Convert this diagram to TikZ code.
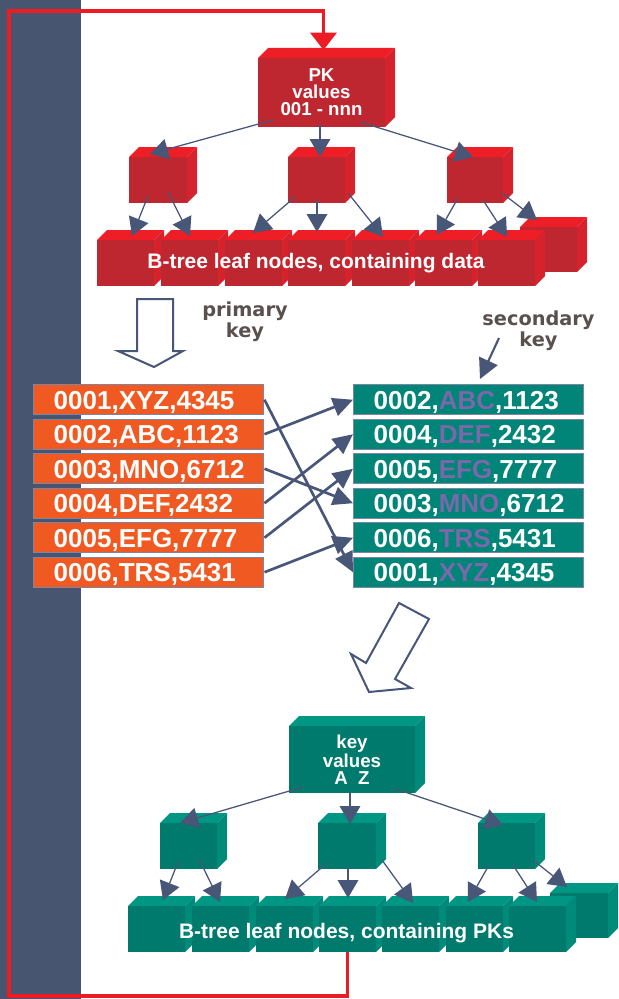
\documentclass[tikz,border=0pt]{standalone}
\usepackage{fontspec}
\setmainfont{Liberation Sans}
\newfontfamily\notefont{DejaVu Sans}
\usetikzlibrary{arrows.meta}

\definecolor{slateband}{RGB}{71,85,112}
\definecolor{slateline}{RGB}{72,86,120}
\definecolor{rowedge}{RGB}{125,134,160}
\definecolor{pkred}{RGB}{237,28,36}
\definecolor{redfront}{RGB}{190,38,48}
\definecolor{redtop}{RGB}{237,30,38}
\definecolor{redside}{RGB}{214,34,44}
\definecolor{grfront}{RGB}{0,122,108}
\definecolor{grtop}{RGB}{0,150,132}
\definecolor{grside}{RGB}{0,138,122}
\definecolor{rowor}{RGB}{240,90,34}
\definecolor{rowgr}{RGB}{0,133,120}
\definecolor{keypurple}{RGB}{122,104,170}
\definecolor{notegray}{RGB}{90,80,78}

% 3-D block: name, x, y (front top-left), width, height, palette, text
\newcommand\blockcube[7]{%
  \fill[#6top] (#2,#3) -- ++(10,-10) -- ++(#4,0) -- ++(-10,10) -- cycle;
  \fill[#6side] (#2+#4,#3) -- ++(10,-10) -- ++(0,#5) -- ++(-10,10) -- cycle;
  \node[cubeface, fill=#6front, minimum width=#4*0.75pt, minimum height=#5*0.75pt] (#1) at (#2,#3) {#7};
}

\begin{document}
\begin{tikzpicture}[x=0.75pt, y=-0.75pt,
  cubeface/.style={anchor=north west, inner sep=0pt, outer sep=0pt, text=white,
    align=center, font=\bfseries\fontsize{14}{12.8}\selectfont},
  leaflabel/.style={anchor=base, inner sep=0pt, text=white,
    font=\bfseries\fontsize{15.75}{18}\selectfont},
  treearrow/.style={draw=slateline, line width=0.95pt, -{Triangle[length=13.5pt,width=15.5pt]}},
  crossarrow/.style={draw=slateline, line width=2pt, -{Triangle[length=15pt,width=14pt]}},
  keyarrow/.style={draw=slateline, line width=1.6pt, -{Triangle[length=15pt,width=15pt]}},
  hollowarrow/.style={draw=slateline, line width=1.5pt, fill=white, line join=miter},
  redloop/.style={draw=pkred, line width=2.6pt, line join=miter, -{Triangle[length=13pt,width=19.5pt]}},
  tablerow/.style={anchor=north west, draw=rowedge, line width=1.1pt, text=white,
    inner xsep=15pt, inner ysep=0pt, text width=142.5pt, align=left,
    minimum height=22.5pt, text height=14pt, text depth=0pt,
    font=\bfseries\fontsize{19.5}{20}\selectfont},
  leftrow/.style={tablerow, fill=rowor},
  rightrow/.style={tablerow, fill=rowgr},
  keynote/.style={align=center, text=notegray, inner sep=0pt,
    font=\notefont\bfseries\fontsize{14.5}{15.75}\selectfont}
]
\useasboundingbox (0,0) rectangle (618,999);
\fill[white] (0,0) rectangle (618,999);
\fill[slateband] (0,0) rectangle (81,999);

% ---------- primary-key B-tree ----------
\blockcube{rlb}{520}{227}{57}{45}{red}{}
\blockcube{pk}{258}{58}{127}{69}{red}{PK\\values\\001 - nnn}
\blockcube{rc1}{129}{157}{58}{46}{red}{}
\blockcube{rc2}{288}{157}{57}{46}{red}{}
\blockcube{rc3}{447}{157}{56}{46}{red}{}
\foreach \n/\x in {1/97,2/161,3/225,4/288,5/352,6/415,7/478}
  {\blockcube{rl\n}{\x}{240}{57}{46}{red}{}}
\node[leaflabel] (rlabel) at (316,268.5) {B-tree leaf nodes, containing data};

\draw[treearrow] ([shift={(15,62)}]pk.north west) -- ([shift={(21,-3)}]rc1.north west);
\draw[treearrow] ([shift={(62,66)}]pk.north west) -- ([shift={(32,0)}]rc2.north west);
\draw[treearrow] ([shift={(102,64)}]pk.north west) -- ([shift={(26,0)}]rc3.north west);

\draw[treearrow] ([shift={(19,39)}]rc1.north west) -- ([shift={(35,-4)}]rl1.north west);
\draw[treearrow] ([shift={(39,35)}]rc1.north west) -- ([shift={(29,-4)}]rl2.north west);
\draw[treearrow] ([shift={(7,40)}]rc2.north west) -- ([shift={(28,-7)}]rl3.north west);
\draw[treearrow] ([shift={(29,43)}]rc2.north west) -- ([shift={(29,-8)}]rl4.north west);
\draw[treearrow] ([shift={(60,36)}]rc2.north west) -- ([shift={(31,-3)}]rl5.north west);
\draw[treearrow] ([shift={(11,41)}]rc3.north west) -- ([shift={(22,-5)}]rl6.north west);
\draw[treearrow] ([shift={(36,43)}]rc3.north west) -- ([shift={(29,-3)}]rl7.north west);
\draw[treearrow] ([shift={(55,36)}]rc3.north west) -- ([shift={(17,-7)}]rlb.north west);

% ---------- secondary-key B-tree ----------
\blockcube{glb}{550}{893}{58}{45}{gr}{}
\blockcube{kv}{289}{726}{126}{67}{gr}{key\\values\\A~~Z}
\blockcube{gc1}{160}{823}{57}{46}{gr}{}
\blockcube{gc2}{318}{823}{58}{46}{gr}{}
\blockcube{gc3}{478}{823}{57}{46}{gr}{}
\foreach \n/\x in {1/128,2/192,3/256,4/319,5/382,6/446,7/509}
  {\blockcube{gl\n}{\x}{906}{57}{46}{gr}{}}
\node[leaflabel] (glabel) at (346.5,938) {B-tree leaf nodes, containing PKs};

\draw[treearrow] ([shift={(14,61)}]kv.north west) -- ([shift={(20,0)}]gc1.north west);
\draw[treearrow] ([shift={(61,66)}]kv.north west) -- ([shift={(32,1)}]gc2.north west);
\draw[treearrow] ([shift={(104,62)}]kv.north west) -- ([shift={(25,2)}]gc3.north west);

\draw[treearrow] ([shift={(18,39)}]gc1.north west) -- ([shift={(35,-6)}]gl1.north west);
\draw[treearrow] ([shift={(39,36)}]gc1.north west) -- ([shift={(28,-4)}]gl2.north west);
\draw[treearrow] ([shift={(9,40)}]gc2.north west) -- ([shift={(29,-7)}]gl3.north west);
\draw[treearrow] ([shift={(30,44)}]gc2.north west) -- ([shift={(29,-8)}]gl4.north west);
\draw[treearrow] ([shift={(64,37)}]gc2.north west) -- ([shift={(31,-3)}]gl5.north west);
\draw[treearrow] ([shift={(11,42)}]gc3.north west) -- ([shift={(22,-4)}]gl6.north west);
\draw[treearrow] ([shift={(35,42)}]gc3.north west) -- ([shift={(28,-4)}]gl7.north west);
\draw[treearrow] ([shift={(55,37)}]gc3.north west) -- ([shift={(17,-6)}]glb.north west);

% ---------- hollow direction arrows ----------
\draw[hollowarrow] (137,299) -- (173,299) -- (173,351) -- (183,351) -- (154,367)
  -- (118,351) -- (137,351) -- cycle;
\draw[hollowarrow] (399,603) -- (429,619) -- (395,679) -- (411,688) -- (369,692)
  -- (351,654) -- (366,663) -- cycle;

% ---------- key captions ----------
\node[keynote] (primnote) at (245,322) {primary\\key};
\node[keynote] (secnote) at (538.5,331) {secondary\\key};
\coordinate (sectail) at (499,338);

% ---------- rows ordered by primary key ----------
\node[leftrow] (l1) at (33,384)   {0001,XYZ,4345};
\node[leftrow] (l2) at (33,418.5) {0002,ABC,1123};
\node[leftrow] (l3) at (33,453)   {0003,MNO,6712};
\node[leftrow] (l4) at (33,487.5) {0004,DEF,2432};
\node[leftrow] (l5) at (33,522)   {0005,EFG,7777};
\node[leftrow] (l6) at (33,556.5) {0006,TRS,5431};

% ---------- rows ordered by secondary key ----------
\node[rightrow] (r1) at (353,384)   {0002,\textcolor{keypurple}{ABC},1123};
\node[rightrow] (r2) at (353,418.5) {0004,\textcolor{keypurple}{DEF},2432};
\node[rightrow] (r3) at (353,453)   {0005,\textcolor{keypurple}{EFG},7777};
\node[rightrow] (r4) at (353,487.5) {0003,\textcolor{keypurple}{MNO},6712};
\node[rightrow] (r5) at (353,522)   {0006,\textcolor{keypurple}{TRS},5431};
\node[rightrow] (r6) at (353,556.5) {0001,\textcolor{keypurple}{XYZ},4345};

\draw[keyarrow] (sectail) -- ([shift={(127,-5)}]r1.north west);

\draw[crossarrow] (l1.east) -- (r6.west);
\draw[crossarrow] (l2.east) -- (r1.west);
\draw[crossarrow] (l3.east) -- (r4.west);
\draw[crossarrow] (l4.east) -- (r2.west);
\draw[crossarrow] (l5.east) -- (r3.west);
\draw[crossarrow] (l6.east) -- (r5.west);

% ---------- loop from the PK leaves back to the primary index ----------
\coordinate (loopcorner) at (9,11);
\draw[redloop] (gl4.south) -- ++(0,44) -| (loopcorner) -| ([shift={(2,-8)}]pk.north);
\end{tikzpicture}
\end{document}
